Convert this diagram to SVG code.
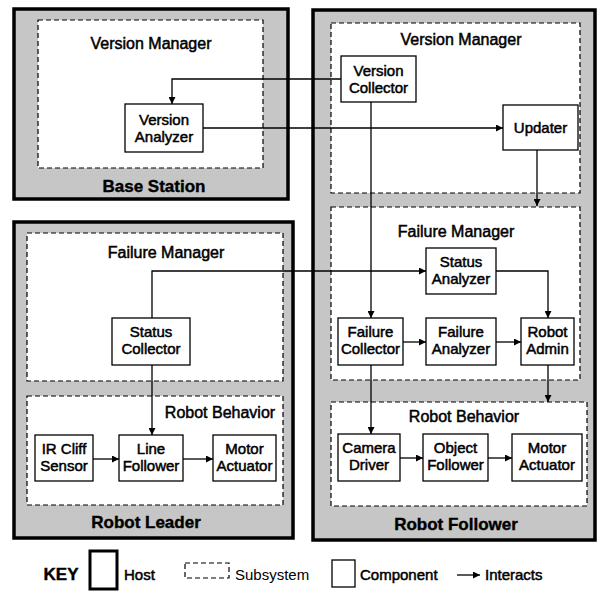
<svg xmlns="http://www.w3.org/2000/svg" width="606" height="599" viewBox="0 0 606 599">
<style>
.host{fill:#c6c6c6;stroke:#000;stroke-width:3.5}
.sub{fill:#fff;stroke:#000;stroke-width:1.2;stroke-dasharray:5 3}
.comp{fill:#fff;stroke:#000;stroke-width:1.3}
text{font-family:"Liberation Sans",Arial,sans-serif;fill:#000;text-anchor:middle}
.t{font-size:15px;stroke:#000;stroke-width:0.5}
.st{font-size:16px;stroke:#000;stroke-width:0.5}
.ht{font-size:17px;font-weight:bold;stroke:#000;stroke-width:0.4}
.conn path{fill:none;stroke:#000;stroke-width:1.3}
</style>
<defs>
<marker id="arr" viewBox="0 0 10 10" refX="10" refY="5" markerWidth="7" markerHeight="7" markerUnits="userSpaceOnUse" orient="auto">
<path d="M0,0 L10,5 L0,10 z" fill="#000"/>
</marker>
</defs>

<g id="base-station">
<rect class="host" x="14" y="9" width="274" height="190"/>
<rect class="sub" x="38" y="20" width="225" height="148"/>
<text class="st" x="151" y="49">Version Manager</text>
<text class="ht" x="154" y="192">Base Station</text>
</g>

<g id="robot-follower">
<rect class="host" x="313" y="10" width="282" height="530"/>
<rect class="sub" x="331" y="23" width="249" height="170"/>
<text class="st" x="461" y="45">Version Manager</text>
<rect class="sub" x="331" y="207" width="249" height="173"/>
<text class="st" x="456" y="237">Failure Manager</text>
<rect class="sub" x="331" y="402" width="256" height="104"/>
<text class="st" x="464" y="422">Robot Behavior</text>
<text class="ht" x="456" y="530">Robot Follower</text>
</g>

<g id="robot-leader">
<rect class="host" x="14" y="222" width="279" height="316"/>
<rect class="sub" x="27" y="233" width="256" height="148"/>
<text class="st" x="166" y="258">Failure Manager</text>
<rect class="sub" x="27" y="396" width="256" height="109"/>
<text class="st" x="220" y="418">Robot Behavior</text>
<text class="ht" x="146" y="528">Robot Leader</text>
</g>

<g id="version-analyzer">
<rect class="comp" x="125" y="104" width="78" height="48"/>
<text class="t" x="164" y="125">Version</text>
<text class="t" x="164" y="142">Analyzer</text>
</g>
<g id="version-collector">
<rect class="comp" x="341" y="56" width="75" height="46"/>
<text class="t" x="378.500" y="76">Version</text>
<text class="t" x="378.500" y="93">Collector</text>
</g>
<g id="updater">
<rect class="comp" x="503" y="105" width="75" height="45"/>
<text class="t" x="540.500" y="133">Updater</text>
</g>
<g id="status-analyzer">
<rect class="comp" x="426" y="248" width="70" height="46"/>
<text class="t" x="461" y="267">Status</text>
<text class="t" x="461" y="284">Analyzer</text>
</g>
<g id="failure-collector">
<rect class="comp" x="338" y="318" width="65" height="47"/>
<text class="t" x="370.500" y="337">Failure</text>
<text class="t" x="370.500" y="354">Collector</text>
</g>
<g id="failure-analyzer">
<rect class="comp" x="426" y="318" width="70" height="47"/>
<text class="t" x="461" y="337">Failure</text>
<text class="t" x="461" y="354">Analyzer</text>
</g>
<g id="robot-admin">
<rect class="comp" x="521" y="318" width="53" height="47"/>
<text class="t" x="547.500" y="337">Robot</text>
<text class="t" x="547.500" y="354">Admin</text>
</g>
<g id="camera-driver">
<rect class="comp" x="338" y="434" width="62" height="47"/>
<text class="t" x="369" y="453">Camera</text>
<text class="t" x="369" y="470">Driver</text>
</g>
<g id="object-follower">
<rect class="comp" x="423" y="434" width="65" height="47"/>
<text class="t" x="455.500" y="453">Object</text>
<text class="t" x="455.500" y="470">Follower</text>
</g>
<g id="motor-actuator-follower">
<rect class="comp" x="512" y="434" width="70" height="47"/>
<text class="t" x="547" y="453">Motor</text>
<text class="t" x="547" y="470">Actuator</text>
</g>
<g id="status-collector">
<rect class="comp" x="112" y="318" width="78" height="47"/>
<text class="t" x="151" y="337">Status</text>
<text class="t" x="151" y="354">Collector</text>
</g>
<g id="ir-cliff-sensor">
<rect class="comp" x="35" y="435" width="58" height="46"/>
<text class="t" x="64" y="454">IR Cliff</text>
<text class="t" x="64" y="471">Sensor</text>
</g>
<g id="line-follower">
<rect class="comp" x="119" y="435" width="64" height="46"/>
<text class="t" x="151" y="454">Line</text>
<text class="t" x="151" y="471">Follower</text>
</g>
<g id="motor-actuator-leader">
<rect class="comp" x="213" y="435" width="63" height="46"/>
<text class="t" x="244.500" y="454">Motor</text>
<text class="t" x="244.500" y="471">Actuator</text>
</g>

<g id="connectors" class="conn">
<path d="M341,79 H172 V104" marker-end="url(#arr)"/>
<path d="M203,128 H503" marker-end="url(#arr)"/>
<path d="M537,150 V206" marker-end="url(#arr)"/>
<path d="M371,102 V318" marker-end="url(#arr)"/>
<path d="M152,318 V271 H426" marker-end="url(#arr)"/>
<path d="M496,271 H548 V318" marker-end="url(#arr)"/>
<path d="M403,342 H426" marker-end="url(#arr)"/>
<path d="M496,342 H521" marker-end="url(#arr)"/>
<path d="M548,365 V402" marker-end="url(#arr)"/>
<path d="M371,365 V434" marker-end="url(#arr)"/>
<path d="M400,458 H423" marker-end="url(#arr)"/>
<path d="M488,458 H512" marker-end="url(#arr)"/>
<path d="M152,365 V435" marker-end="url(#arr)"/>
<path d="M93,459 H119" marker-end="url(#arr)"/>
<path d="M183,459 H213" marker-end="url(#arr)"/>
</g>

<g id="key">
<text class="ht" x="61" y="580">KEY</text>
<rect x="90" y="551" width="27" height="38" fill="#fff" stroke="#000" stroke-width="3"/>
<text class="t" x="124" y="580" style="text-anchor:start">Host</text>
<rect class="sub" x="185" y="563" width="44" height="15"/>
<text x="235" y="580" style="text-anchor:start;font-size:15px">Subsystem</text>
<rect class="comp" x="332" y="560" width="23" height="27"/>
<text class="t" x="360" y="580" style="text-anchor:start">Component</text>
<path d="M457,575 H480" stroke="#000" stroke-width="1.3" fill="none" marker-end="url(#arr)"/>
<text class="t" x="485" y="580" style="text-anchor:start">Interacts</text>
</g>
</svg>
